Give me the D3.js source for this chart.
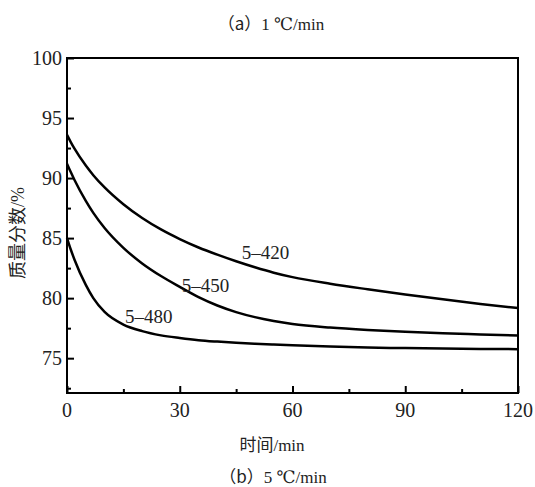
<!DOCTYPE html>
<html><head><meta charset="utf-8">
<script src="https://cdn.jsdelivr.net/npm/d3@7/dist/d3.min.js"></script>
<style>
html,body{margin:0;padding:0;background:#fff;}
svg{display:block;}
</style></head>
<body>
<svg id="chart" width="535" height="487"></svg>
<script>
const times = [0, 1, 2, 5, 7, 10, 15, 20, 25, 30, 35, 40, 45, 50, 55, 60, 70, 80, 90, 100, 110, 120];
const s420 = [93.6, 93.0, 92.45, 91.04, 90.24, 89.22, 87.82, 86.67, 85.72, 84.92, 84.22, 83.62, 83.07, 82.57, 82.12, 81.75, 81.2, 80.74, 80.31, 79.9, 79.52, 79.17];
const s450 = [91.2, 90.5, 89.84, 88.1, 87.1, 85.84, 84.19, 82.89, 81.84, 80.94, 80.09, 79.39, 78.84, 78.42, 78.1, 77.85, 77.55, 77.35, 77.2, 77.08, 76.98, 76.88];
const s480 = [85.0, 84.05, 83.2, 81.1, 80.0, 78.85, 77.8, 77.25, 76.9, 76.68, 76.5, 76.38, 76.28, 76.2, 76.13, 76.07, 75.97, 75.89, 75.84, 75.8, 75.77, 75.75];
const seriesNames = ["5\u2013420", "5\u2013450", "5\u2013480"];
const labelPos = [[46.5, 83.3], [30.5, 80.5], [15.4, 77.9]];
const xTicks = [0, 30, 60, 90, 120];
const xMinor = [15, 45, 75, 105];
const yTicks = [75, 80, 85, 90, 95, 100];
const yMinor = [72.5, 77.5, 82.5, 87.5, 92.5, 97.5];

const svg = d3.select("#chart");
const L = 67, R = 518, T = 58, B = 393;
const x = d3.scaleLinear().domain([0, 120]).range([L, R]);
const y = d3.scaleLinear().domain([72.1, 100]).range([B, T]);
const serif = "Liberation Serif, DejaVu Serif, Noto Serif, Tinos, Times New Roman, serif";
const cjk = "Noto Sans CJK SC, sans-serif";

// frame
svg.append("rect").attr("x", L).attr("y", T).attr("width", R - L).attr("height", B - T)
  .attr("fill", "none").attr("stroke", "#000").attr("stroke-width", 2);

function styleTicks(g) {
  g.select(".domain").remove();
  g.selectAll("line").attr("stroke", "#000").attr("stroke-width", 2);
}
// y axis ticks (inward)
svg.append("g").attr("transform", `translate(${L},0)`)
  .call(d3.axisRight(y).tickValues(yTicks).tickSize(7).tickFormat("")).call(styleTicks);
svg.append("g").attr("transform", `translate(${L},0)`)
  .call(d3.axisRight(y).tickValues(yMinor).tickSize(4).tickFormat("")).call(styleTicks);
svg.append("g").selectAll("text").data(yTicks).join("text")
  .attr("x", L - 5).attr("y", d => y(d) + 7)
  .attr("text-anchor", "end").style("font-family", serif).attr("font-size", 20).attr("fill", "#222")
  .text(d => d);

// x axis ticks (inward)
svg.append("g").attr("transform", `translate(0,${B})`)
  .call(d3.axisTop(x).tickValues(xTicks).tickSize(7).tickFormat("")).call(styleTicks);
svg.append("g").attr("transform", `translate(0,${B})`)
  .call(d3.axisTop(x).tickValues(xMinor).tickSize(4).tickFormat("")).call(styleTicks);
svg.append("g").selectAll("text").data(xTicks).join("text")
  .attr("x", d => x(d)).attr("y", B + 24)
  .attr("text-anchor", "middle").style("font-family", serif).attr("font-size", 20).attr("fill", "#222")
  .text(d => d);

// curves
const line = d3.line().x((d, i) => x(times[i])).y(d => y(d)).curve(d3.curveMonotoneX);
[s420, s450, s480].forEach(s => {
  svg.append("path").attr("d", line(s)).attr("fill", "none")
    .attr("stroke", "#000").attr("stroke-width", 2.5).attr("stroke-linejoin", "round");
});
seriesNames.forEach((n, i) => {
  svg.append("text").attr("x", x(labelPos[i][0])).attr("y", y(labelPos[i][1]))
    .style("font-family", serif).attr("font-size", 19).attr("fill", "#222").text(n);
});

// titles
function mixed(sel, cn, rest) {
  sel.append("tspan").style("font-family", cjk).text(cn);
  sel.append("tspan").style("font-family", serif).text(rest);
}
const t1 = svg.append("text").attr("x", 271).attr("y", 30).attr("text-anchor", "middle")
  .attr("font-size", 17).attr("fill", "#222");
mixed(t1, "（a）", "1 ℃/min");
const t2 = svg.append("text").attr("x", 272).attr("y", 451).attr("text-anchor", "middle")
  .attr("font-size", 17).attr("fill", "#222");
mixed(t2, "时间", "/min");
const t3 = svg.append("text").attr("x", 273).attr("y", 483).attr("text-anchor", "middle")
  .attr("font-size", 17).attr("fill", "#222");
mixed(t3, "（b）", "5 ℃/min");
const t4 = svg.append("text").attr("transform", "translate(24,233) rotate(-90)").attr("text-anchor", "middle")
  .attr("font-size", 18).attr("fill", "#222");
mixed(t4, "质量分数", "/%");
</script>
</body></html>
